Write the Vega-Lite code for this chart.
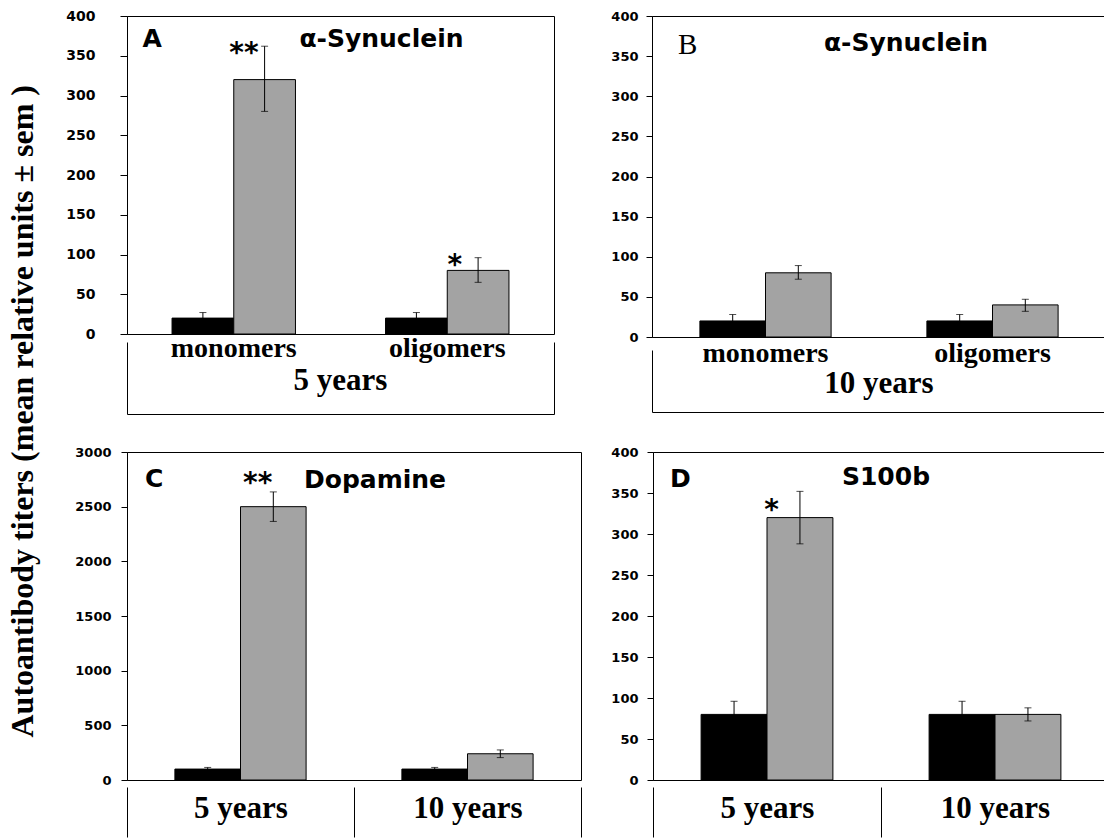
{
  "$schema": "https://vega.github.io/schema/vega-lite/v6.json",
  "background": "white",
  "padding": {"left": 7, "top": 8, "right": 0, "bottom": 0},
  "title": {"text": "Autoantibody titers (mean relative units ± sem )", "orient": "left", "anchor": "middle", "font": "Liberation Serif", "fontSize": 32, "fontWeight": "bold", "color": "black", "offset": 25, "dx": 12},
  "config": {
    "view": {"stroke": "black", "strokeWidth": 1},
    "axis": {"domainColor": "black", "tickColor": "black", "labelColor": "black", "grid": false},
    "axisY": {"labelFont": "DejaVu Sans", "labelFontSize": 13, "labelFontWeight": "bold", "tickSize": 6}
  },
  "datasets": {
    "bars": [
      {"panel": "A", "cat": "monomers", "grp": "control", "mean": 20, "lo": 13, "hi": 27, "sig": ""},
      {"panel": "A", "cat": "monomers", "grp": "patients", "mean": 320, "lo": 280, "hi": 362, "sig": "**"},
      {"panel": "A", "cat": "oligomers", "grp": "control", "mean": 20, "lo": 13, "hi": 27, "sig": ""},
      {"panel": "A", "cat": "oligomers", "grp": "patients", "mean": 80, "lo": 65, "hi": 96, "sig": "*"},
      {"panel": "B", "cat": "monomers", "grp": "control", "mean": 20, "lo": 12, "hi": 28, "sig": ""},
      {"panel": "B", "cat": "monomers", "grp": "patients", "mean": 80, "lo": 72, "hi": 89, "sig": ""},
      {"panel": "B", "cat": "oligomers", "grp": "control", "mean": 20, "lo": 12, "hi": 28, "sig": ""},
      {"panel": "B", "cat": "oligomers", "grp": "patients", "mean": 40, "lo": 32, "hi": 47, "sig": ""},
      {"panel": "C", "cat": "5 years", "grp": "control", "mean": 100, "lo": 88, "hi": 115, "sig": ""},
      {"panel": "C", "cat": "5 years", "grp": "patients", "mean": 2500, "lo": 2365, "hi": 2635, "sig": "**"},
      {"panel": "C", "cat": "10 years", "grp": "control", "mean": 100, "lo": 88, "hi": 115, "sig": ""},
      {"panel": "C", "cat": "10 years", "grp": "patients", "mean": 240, "lo": 205, "hi": 275, "sig": ""},
      {"panel": "D", "cat": "5 years", "grp": "control", "mean": 80, "lo": 64, "hi": 96, "sig": ""},
      {"panel": "D", "cat": "5 years", "grp": "patients", "mean": 320, "lo": 288, "hi": 352, "sig": "*"},
      {"panel": "D", "cat": "10 years", "grp": "control", "mean": 80, "lo": 64, "hi": 96, "sig": ""},
      {"panel": "D", "cat": "10 years", "grp": "patients", "mean": 80, "lo": 72, "hi": 88, "sig": ""}
    ],
    "labels": [
      {"panel": "A", "role": "letter", "label": "A"},
      {"panel": "A", "role": "name", "label": "α-Synuclein"},
      {"panel": "B", "role": "letter", "label": "B"},
      {"panel": "B", "role": "name", "label": "α-Synuclein"},
      {"panel": "C", "role": "letter", "label": "C"},
      {"panel": "C", "role": "name", "label": "Dopamine"},
      {"panel": "D", "role": "letter", "label": "D"},
      {"panel": "D", "role": "name", "label": "S100b"}
    ],
    "boxlabels": [
      {"panel": "A", "level": "cat", "cat": "monomers", "label": "monomers"},
      {"panel": "A", "level": "cat", "cat": "oligomers", "label": "oligomers"},
      {"panel": "A", "level": "group", "cat": "", "label": "5 years"},
      {"panel": "B", "level": "cat", "cat": "monomers", "label": "monomers"},
      {"panel": "B", "level": "cat", "cat": "oligomers", "label": "oligomers"},
      {"panel": "B", "level": "group", "cat": "", "label": "10 years"}
    ]
  },
  "spacing": 31,
  "resolve": {"scale": {"x": "independent", "y": "independent", "xOffset": "independent", "fill": "independent"}},
  "vconcat": [
    {
      "spacing": 55,
      "resolve": {"scale": {"x": "independent", "y": "independent", "xOffset": "independent", "fill": "independent"}},
      "hconcat": [
        {
          "spacing": -8,
          "resolve": {"scale": {"x": "independent", "y": "independent", "xOffset": "independent", "fill": "independent"}},
          "vconcat": [
            {
              "width": 427, "height": 318,
              "layer": [
                {
                  "data": {"name": "bars"},
                  "transform": [{"filter": "datum.panel === 'A'"}],
                  "mark": {"type": "bar", "stroke": "black", "strokeWidth": 1},
                  "encoding": {
                    "x": {"field": "cat", "type": "nominal", "scale": {"domain": ["monomers", "oligomers"], "paddingInner": 0, "paddingOuter": 0}, "axis": null},
                    "xOffset": {"field": "grp", "type": "nominal", "scale": {"domain": ["control", "patients"], "paddingInner": 0, "paddingOuter": 0.73}},
                    "y": {"field": "mean", "type": "quantitative", "scale": {"domain": [0, 400]}, "axis": {"values": [0, 50, 100, 150, 200, 250, 300, 350, 400], "tickCount": 10, "format": "d", "title": null, "labelPadding": 25, "labelFontSize": 14, "tickSize": 7}},
                    "fill": {"field": "grp", "type": "nominal", "scale": {"domain": ["control", "patients"], "range": ["#000000", "#a3a3a3"]}, "legend": null}
                  }
                },
                {
                  "data": {"name": "bars"},
                  "transform": [{"filter": "datum.panel === 'A'"}],
                  "mark": {"type": "rule", "color": "black", "strokeWidth": 1},
                  "encoding": {
                    "x": {"field": "cat", "type": "nominal", "axis": null},
                    "xOffset": {"field": "grp", "type": "nominal"},
                    "y": {"field": "lo", "type": "quantitative", "axis": {"values": [0, 50, 100, 150, 200, 250, 300, 350, 400], "tickCount": 10, "format": "d", "title": null, "labelPadding": 25, "labelFontSize": 14, "tickSize": 7}},
                    "y2": {"field": "hi"}
                  }
                },
                {
                  "data": {"name": "bars"},
                  "transform": [{"filter": "datum.panel === 'A'"}, {"fold": ["lo", "hi"], "as": ["end", "val"]}],
                  "mark": {"type": "tick", "orient": "horizontal", "size": 7, "thickness": 1, "color": "black"},
                  "encoding": {
                    "x": {"field": "cat", "type": "nominal", "axis": null},
                    "xOffset": {"field": "grp", "type": "nominal"},
                    "y": {"field": "val", "type": "quantitative", "axis": {"values": [0, 50, 100, 150, 200, 250, 300, 350, 400], "tickCount": 10, "format": "d", "title": null, "labelPadding": 25, "labelFontSize": 14, "tickSize": 7}}
                  }
                },
                {
                  "data": {"name": "bars"},
                  "transform": [{"filter": "datum.panel === 'A' && datum.cat === 'monomers' && datum.sig !== ''"}],
                  "mark": {"type": "text", "font": "DejaVu Sans", "fontSize": 28, "fontWeight": "bold", "align": "right", "baseline": "middle", "dx": -6, "dy": 8, "color": "black"},
                  "encoding": {
                    "x": {"field": "cat", "type": "nominal", "axis": null},
                    "xOffset": {"field": "grp", "type": "nominal"},
                    "y": {"field": "hi", "type": "quantitative", "axis": {"values": [0, 50, 100, 150, 200, 250, 300, 350, 400], "tickCount": 10, "format": "d", "title": null, "labelPadding": 25, "labelFontSize": 14, "tickSize": 7}},
                    "text": {"field": "sig"}
                  }
                },
                {
                  "data": {"name": "bars"},
                  "transform": [{"filter": "datum.panel === 'A' && datum.cat === 'oligomers' && datum.sig !== ''"}],
                  "mark": {"type": "text", "font": "DejaVu Sans", "fontSize": 28, "fontWeight": "bold", "align": "right", "baseline": "middle", "dx": -16, "dy": 8, "color": "black"},
                  "encoding": {
                    "x": {"field": "cat", "type": "nominal", "axis": null},
                    "xOffset": {"field": "grp", "type": "nominal"},
                    "y": {"field": "hi", "type": "quantitative", "axis": {"values": [0, 50, 100, 150, 200, 250, 300, 350, 400], "tickCount": 10, "format": "d", "title": null, "labelPadding": 25, "labelFontSize": 14, "tickSize": 7}},
                    "text": {"field": "sig"}
                  }
                },
                {
                  "data": {"name": "labels"},
                  "transform": [{"filter": "datum.panel === 'A' && datum.role === 'letter'"}],
                  "mark": {"type": "text", "font": "DejaVu Sans", "fontSize": 25, "fontWeight": "bold", "align": "left", "baseline": "middle", "dx": -198, "color": "black"},
                  "encoding": {"y": {"datum": 371, "type": "quantitative", "axis": {"values": [0, 50, 100, 150, 200, 250, 300, 350, 400], "tickCount": 10, "format": "d", "title": null, "labelPadding": 25, "labelFontSize": 14, "tickSize": 7}}, "text": {"field": "label"}}
                },
                {
                  "data": {"name": "labels"},
                  "transform": [{"filter": "datum.panel === 'A' && datum.role === 'name'"}],
                  "mark": {"type": "text", "font": "DejaVu Sans", "fontSize": 25, "fontWeight": "bold", "align": "center", "baseline": "middle", "dx": 41, "color": "black"},
                  "encoding": {"y": {"datum": 371, "type": "quantitative", "axis": {"values": [0, 50, 100, 150, 200, 250, 300, 350, 400], "tickCount": 10, "format": "d", "title": null, "labelPadding": 25, "labelFontSize": 14, "tickSize": 7}}, "text": {"field": "label"}}
                }
              ]
            },
            {
              "width": 427, "height": 72,
              "view": {"stroke": null},
              "data": {"name": "boxlabels"},
              "transform": [{"filter": "datum.panel === 'A'"}],
              "resolve": {"axis": {"y": "independent"}},
              "layer": [
                {
                  "transform": [{"filter": "datum.level === 'cat'"}],
                  "mark": {"type": "text", "font": "Liberation Serif", "fontSize": 28, "fontWeight": "bold", "baseline": "alphabetic", "color": "black"},
                  "encoding": {
                    "x": {"field": "cat", "type": "nominal", "scale": {"domain": ["monomers", "oligomers"], "paddingInner": 0, "paddingOuter": 0}, "axis": {"orient": "bottom", "title": null, "domain": true, "ticks": false, "labels": false, "domainColor": "black"}},
                    "y": {"field": "level", "type": "nominal", "scale": {"type": "point", "domain": ["cat", "group"], "padding": 0.59, "align": 0.39}, "axis": {"orient": "left", "title": null, "domain": true, "ticks": false, "labels": false, "domainColor": "black"}},
                    "text": {"field": "label"}
                  }
                },
                {
                  "transform": [{"filter": "datum.level === 'group'"}],
                  "mark": {"type": "text", "font": "Liberation Serif", "fontSize": 31, "fontWeight": "bold", "baseline": "alphabetic", "color": "black"},
                  "encoding": {
                    "y": {"field": "level", "type": "nominal", "axis": {"orient": "right", "title": null, "domain": true, "ticks": false, "labels": false, "domainColor": "black"}},
                    "text": {"field": "label"}
                  }
                }
              ]
            }
          ]
        },
        {
          "spacing": -6,
          "resolve": {"scale": {"x": "independent", "y": "independent", "xOffset": "independent", "fill": "independent"}},
          "vconcat": [
            {
              "width": 454, "height": 321,
              "layer": [
                {
                  "data": {"name": "bars"},
                  "transform": [{"filter": "datum.panel === 'B'"}],
                  "mark": {"type": "bar", "stroke": "black", "strokeWidth": 1},
                  "encoding": {
                    "x": {"field": "cat", "type": "nominal", "scale": {"domain": ["monomers", "oligomers"], "paddingInner": 0, "paddingOuter": 0}, "axis": null},
                    "xOffset": {"field": "grp", "type": "nominal", "scale": {"domain": ["control", "patients"], "paddingInner": 0, "paddingOuter": 0.73}},
                    "y": {"field": "mean", "type": "quantitative", "scale": {"domain": [0, 400]}, "axis": {"values": [0, 50, 100, 150, 200, 250, 300, 350, 400], "tickCount": 10, "format": "d", "title": null, "labelPadding": 8}},
                    "fill": {"field": "grp", "type": "nominal", "scale": {"domain": ["control", "patients"], "range": ["#000000", "#a3a3a3"]}, "legend": null}
                  }
                },
                {
                  "data": {"name": "bars"},
                  "transform": [{"filter": "datum.panel === 'B'"}],
                  "mark": {"type": "rule", "color": "black", "strokeWidth": 1},
                  "encoding": {
                    "x": {"field": "cat", "type": "nominal", "axis": null},
                    "xOffset": {"field": "grp", "type": "nominal"},
                    "y": {"field": "lo", "type": "quantitative", "axis": {"values": [0, 50, 100, 150, 200, 250, 300, 350, 400], "tickCount": 10, "format": "d", "title": null, "labelPadding": 8}},
                    "y2": {"field": "hi"}
                  }
                },
                {
                  "data": {"name": "bars"},
                  "transform": [{"filter": "datum.panel === 'B'"}, {"fold": ["lo", "hi"], "as": ["end", "val"]}],
                  "mark": {"type": "tick", "orient": "horizontal", "size": 7, "thickness": 1, "color": "black"},
                  "encoding": {
                    "x": {"field": "cat", "type": "nominal", "axis": null},
                    "xOffset": {"field": "grp", "type": "nominal"},
                    "y": {"field": "val", "type": "quantitative", "axis": {"values": [0, 50, 100, 150, 200, 250, 300, 350, 400], "tickCount": 10, "format": "d", "title": null, "labelPadding": 8}}
                  }
                },
                {
                  "data": {"name": "labels"},
                  "transform": [{"filter": "datum.panel === 'B' && datum.role === 'letter'"}],
                  "mark": {"type": "text", "font": "Liberation Serif", "fontSize": 29, "fontWeight": "normal", "align": "left", "baseline": "middle", "dx": -201, "color": "black"},
                  "encoding": {"y": {"datum": 364, "type": "quantitative", "axis": {"values": [0, 50, 100, 150, 200, 250, 300, 350, 400], "tickCount": 10, "format": "d", "title": null, "labelPadding": 8}}, "text": {"field": "label"}}
                },
                {
                  "data": {"name": "labels"},
                  "transform": [{"filter": "datum.panel === 'B' && datum.role === 'name'"}],
                  "mark": {"type": "text", "font": "DejaVu Sans", "fontSize": 25, "fontWeight": "bold", "align": "center", "baseline": "middle", "dx": 27, "color": "black"},
                  "encoding": {"y": {"datum": 366, "type": "quantitative", "axis": {"values": [0, 50, 100, 150, 200, 250, 300, 350, 400], "tickCount": 10, "format": "d", "title": null, "labelPadding": 8}}, "text": {"field": "label"}}
                }
              ]
            },
            {
              "width": 454, "height": 62,
              "view": {"stroke": null},
              "data": {"name": "boxlabels"},
              "transform": [{"filter": "datum.panel === 'B'"}],
              "resolve": {"axis": {"y": "independent"}},
              "layer": [
                {
                  "transform": [{"filter": "datum.level === 'cat'"}],
                  "mark": {"type": "text", "font": "Liberation Serif", "fontSize": 28, "fontWeight": "bold", "baseline": "alphabetic", "color": "black"},
                  "encoding": {
                    "x": {"field": "cat", "type": "nominal", "scale": {"domain": ["monomers", "oligomers"], "paddingInner": 0, "paddingOuter": 0}, "axis": {"orient": "bottom", "title": null, "domain": true, "ticks": false, "labels": false, "domainColor": "black"}},
                    "y": {"field": "level", "type": "nominal", "scale": {"type": "point", "domain": ["cat", "group"], "padding": 0.5, "align": 0.387}, "axis": {"orient": "left", "title": null, "domain": true, "ticks": false, "labels": false, "domainColor": "black"}},
                    "text": {"field": "label"}
                  }
                },
                {
                  "transform": [{"filter": "datum.level === 'group'"}],
                  "mark": {"type": "text", "font": "Liberation Serif", "fontSize": 31, "fontWeight": "bold", "baseline": "alphabetic", "color": "black"},
                  "encoding": {
                    "y": {"field": "level", "type": "nominal", "axis": {"orient": "right", "title": null, "domain": true, "ticks": false, "labels": false, "domainColor": "black"}},
                    "text": {"field": "label"}
                  }
                }
              ]
            }
          ]
        }
      ]
    },
    {
      "spacing": 28,
      "resolve": {"scale": {"x": "independent", "y": "independent", "xOffset": "independent", "fill": "independent"}},
      "hconcat": [
        {
          "width": 454, "height": 328,
          "layer": [
            {
              "data": {"name": "bars"},
              "transform": [{"filter": "datum.panel === 'C'"}],
              "mark": {"type": "bar", "stroke": "black", "strokeWidth": 1},
              "encoding": {
                "x": {"field": "cat", "type": "nominal", "scale": {"domain": ["5 years", "10 years"], "paddingInner": 0, "paddingOuter": 0}, "axis": {"orient": "bottom", "title": null, "domain": false, "offset": 7, "tickBand": "extent", "ticks": true, "tickSize": 50, "tickColor": "black", "labelAngle": 0, "labelFont": "Liberation Serif", "labelFontSize": 31, "labelFontWeight": "bold", "labelColor": "black", "labelBaseline": "alphabetic", "labelPadding": -20}},
                "xOffset": {"field": "grp", "type": "nominal", "scale": {"domain": ["control", "patients"], "paddingInner": 0, "paddingOuter": 0.73}},
                "y": {"field": "mean", "type": "quantitative", "scale": {"domain": [0, 3000]}, "axis": {"values": [0, 500, 1000, 1500, 2000, 2500, 3000], "tickCount": 8, "format": "d", "title": null, "labelPadding": 10}},
                "fill": {"field": "grp", "type": "nominal", "scale": {"domain": ["control", "patients"], "range": ["#000000", "#a3a3a3"]}, "legend": null}
              }
            },
            {
              "data": {"name": "bars"},
              "transform": [{"filter": "datum.panel === 'C'"}],
              "mark": {"type": "rule", "color": "black", "strokeWidth": 1},
              "encoding": {
                "x": {"field": "cat", "type": "nominal", "axis": {"orient": "bottom", "title": null, "domain": false, "offset": 7, "tickBand": "extent", "ticks": true, "tickSize": 50, "tickColor": "black", "labelAngle": 0, "labelFont": "Liberation Serif", "labelFontSize": 31, "labelFontWeight": "bold", "labelColor": "black", "labelBaseline": "alphabetic", "labelPadding": -20}},
                "xOffset": {"field": "grp", "type": "nominal"},
                "y": {"field": "lo", "type": "quantitative", "axis": {"values": [0, 500, 1000, 1500, 2000, 2500, 3000], "tickCount": 8, "format": "d", "title": null, "labelPadding": 10}},
                "y2": {"field": "hi"}
              }
            },
            {
              "data": {"name": "bars"},
              "transform": [{"filter": "datum.panel === 'C'"}, {"fold": ["lo", "hi"], "as": ["end", "val"]}],
              "mark": {"type": "tick", "orient": "horizontal", "size": 7, "thickness": 1, "color": "black"},
              "encoding": {
                "x": {"field": "cat", "type": "nominal", "axis": {"orient": "bottom", "title": null, "domain": false, "offset": 7, "tickBand": "extent", "ticks": true, "tickSize": 50, "tickColor": "black", "labelAngle": 0, "labelFont": "Liberation Serif", "labelFontSize": 31, "labelFontWeight": "bold", "labelColor": "black", "labelBaseline": "alphabetic", "labelPadding": -20}},
                "xOffset": {"field": "grp", "type": "nominal"},
                "y": {"field": "val", "type": "quantitative", "axis": {"values": [0, 500, 1000, 1500, 2000, 2500, 3000], "tickCount": 8, "format": "d", "title": null, "labelPadding": 10}}
              }
            },
            {
              "data": {"name": "bars"},
              "transform": [{"filter": "datum.panel === 'C' && datum.sig !== ''"}],
              "mark": {"type": "text", "font": "DejaVu Sans", "fontSize": 28, "fontWeight": "bold", "align": "right", "baseline": "middle", "dx": -1, "dy": -8, "color": "black"},
              "encoding": {
                "x": {"field": "cat", "type": "nominal", "axis": {"orient": "bottom", "title": null, "domain": false, "offset": 7, "tickBand": "extent", "ticks": true, "tickSize": 50, "tickColor": "black", "labelAngle": 0, "labelFont": "Liberation Serif", "labelFontSize": 31, "labelFontWeight": "bold", "labelColor": "black", "labelBaseline": "alphabetic", "labelPadding": -20}},
                "xOffset": {"field": "grp", "type": "nominal"},
                "y": {"field": "hi", "type": "quantitative", "axis": {"values": [0, 500, 1000, 1500, 2000, 2500, 3000], "tickCount": 8, "format": "d", "title": null, "labelPadding": 10}},
                "text": {"field": "sig"}
              }
            },
            {
              "data": {"name": "labels"},
              "transform": [{"filter": "datum.panel === 'C' && datum.role === 'letter'"}],
              "mark": {"type": "text", "font": "DejaVu Sans", "fontSize": 25, "fontWeight": "bold", "align": "left", "baseline": "middle", "dx": -209, "color": "black"},
              "encoding": {"y": {"datum": 2753, "type": "quantitative", "axis": {"values": [0, 500, 1000, 1500, 2000, 2500, 3000], "tickCount": 8, "format": "d", "title": null, "labelPadding": 10}}, "text": {"field": "label"}}
            },
            {
              "data": {"name": "labels"},
              "transform": [{"filter": "datum.panel === 'C' && datum.role === 'name'"}],
              "mark": {"type": "text", "font": "DejaVu Sans", "fontSize": 25, "fontWeight": "bold", "align": "center", "baseline": "middle", "dx": 21, "color": "black"},
              "encoding": {"y": {"datum": 2745, "type": "quantitative", "axis": {"values": [0, 500, 1000, 1500, 2000, 2500, 3000], "tickCount": 8, "format": "d", "title": null, "labelPadding": 10}}, "text": {"field": "label"}}
            }
          ]
        },
        {
          "width": 456, "height": 328,
          "layer": [
            {
              "data": {"name": "bars"},
              "transform": [{"filter": "datum.panel === 'D'"}],
              "mark": {"type": "bar", "stroke": "black", "strokeWidth": 1},
              "encoding": {
                "x": {"field": "cat", "type": "nominal", "scale": {"domain": ["5 years", "10 years"], "paddingInner": 0, "paddingOuter": 0}, "axis": {"orient": "bottom", "title": null, "domain": false, "offset": 7, "tickBand": "extent", "ticks": true, "tickSize": 50, "tickColor": "black", "labelAngle": 0, "labelFont": "Liberation Serif", "labelFontSize": 31, "labelFontWeight": "bold", "labelColor": "black", "labelBaseline": "alphabetic", "labelPadding": -20}},
                "xOffset": {"field": "grp", "type": "nominal", "scale": {"domain": ["control", "patients"], "paddingInner": 0, "paddingOuter": 0.73}},
                "y": {"field": "mean", "type": "quantitative", "scale": {"domain": [0, 400]}, "axis": {"values": [0, 50, 100, 150, 200, 250, 300, 350, 400], "tickCount": 10, "format": "d", "title": null, "labelPadding": 9}},
                "fill": {"field": "grp", "type": "nominal", "scale": {"domain": ["control", "patients"], "range": ["#000000", "#a3a3a3"]}, "legend": null}
              }
            },
            {
              "data": {"name": "bars"},
              "transform": [{"filter": "datum.panel === 'D'"}],
              "mark": {"type": "rule", "color": "black", "strokeWidth": 1},
              "encoding": {
                "x": {"field": "cat", "type": "nominal", "axis": {"orient": "bottom", "title": null, "domain": false, "offset": 7, "tickBand": "extent", "ticks": true, "tickSize": 50, "tickColor": "black", "labelAngle": 0, "labelFont": "Liberation Serif", "labelFontSize": 31, "labelFontWeight": "bold", "labelColor": "black", "labelBaseline": "alphabetic", "labelPadding": -20}},
                "xOffset": {"field": "grp", "type": "nominal"},
                "y": {"field": "lo", "type": "quantitative", "axis": {"values": [0, 50, 100, 150, 200, 250, 300, 350, 400], "tickCount": 10, "format": "d", "title": null, "labelPadding": 9}},
                "y2": {"field": "hi"}
              }
            },
            {
              "data": {"name": "bars"},
              "transform": [{"filter": "datum.panel === 'D'"}, {"fold": ["lo", "hi"], "as": ["end", "val"]}],
              "mark": {"type": "tick", "orient": "horizontal", "size": 7, "thickness": 1, "color": "black"},
              "encoding": {
                "x": {"field": "cat", "type": "nominal", "axis": {"orient": "bottom", "title": null, "domain": false, "offset": 7, "tickBand": "extent", "ticks": true, "tickSize": 50, "tickColor": "black", "labelAngle": 0, "labelFont": "Liberation Serif", "labelFontSize": 31, "labelFontWeight": "bold", "labelColor": "black", "labelBaseline": "alphabetic", "labelPadding": -20}},
                "xOffset": {"field": "grp", "type": "nominal"},
                "y": {"field": "val", "type": "quantitative", "axis": {"values": [0, 50, 100, 150, 200, 250, 300, 350, 400], "tickCount": 10, "format": "d", "title": null, "labelPadding": 9}}
              }
            },
            {
              "data": {"name": "bars"},
              "transform": [{"filter": "datum.panel === 'D' && datum.sig !== ''"}],
              "mark": {"type": "text", "font": "DejaVu Sans", "fontSize": 28, "fontWeight": "bold", "align": "right", "baseline": "middle", "dx": -21, "dy": 20, "color": "black"},
              "encoding": {
                "x": {"field": "cat", "type": "nominal", "axis": {"orient": "bottom", "title": null, "domain": false, "offset": 7, "tickBand": "extent", "ticks": true, "tickSize": 50, "tickColor": "black", "labelAngle": 0, "labelFont": "Liberation Serif", "labelFontSize": 31, "labelFontWeight": "bold", "labelColor": "black", "labelBaseline": "alphabetic", "labelPadding": -20}},
                "xOffset": {"field": "grp", "type": "nominal"},
                "y": {"field": "hi", "type": "quantitative", "axis": {"values": [0, 50, 100, 150, 200, 250, 300, 350, 400], "tickCount": 10, "format": "d", "title": null, "labelPadding": 9}},
                "text": {"field": "sig"}
              }
            },
            {
              "data": {"name": "labels"},
              "transform": [{"filter": "datum.panel === 'D' && datum.role === 'letter'"}],
              "mark": {"type": "text", "font": "DejaVu Sans", "fontSize": 25, "fontWeight": "bold", "align": "left", "baseline": "middle", "dx": -211, "color": "black"},
              "encoding": {"y": {"datum": 367, "type": "quantitative", "axis": {"values": [0, 50, 100, 150, 200, 250, 300, 350, 400], "tickCount": 10, "format": "d", "title": null, "labelPadding": 9}}, "text": {"field": "label"}}
            },
            {
              "data": {"name": "labels"},
              "transform": [{"filter": "datum.panel === 'D' && datum.role === 'name'"}],
              "mark": {"type": "text", "font": "DejaVu Sans", "fontSize": 25, "fontWeight": "bold", "align": "center", "baseline": "middle", "dx": 5, "color": "black"},
              "encoding": {"y": {"datum": 370, "type": "quantitative", "axis": {"values": [0, 50, 100, 150, 200, 250, 300, 350, 400], "tickCount": 10, "format": "d", "title": null, "labelPadding": 9}}, "text": {"field": "label"}}
            }
          ]
        }
      ]
    }
  ]
}
